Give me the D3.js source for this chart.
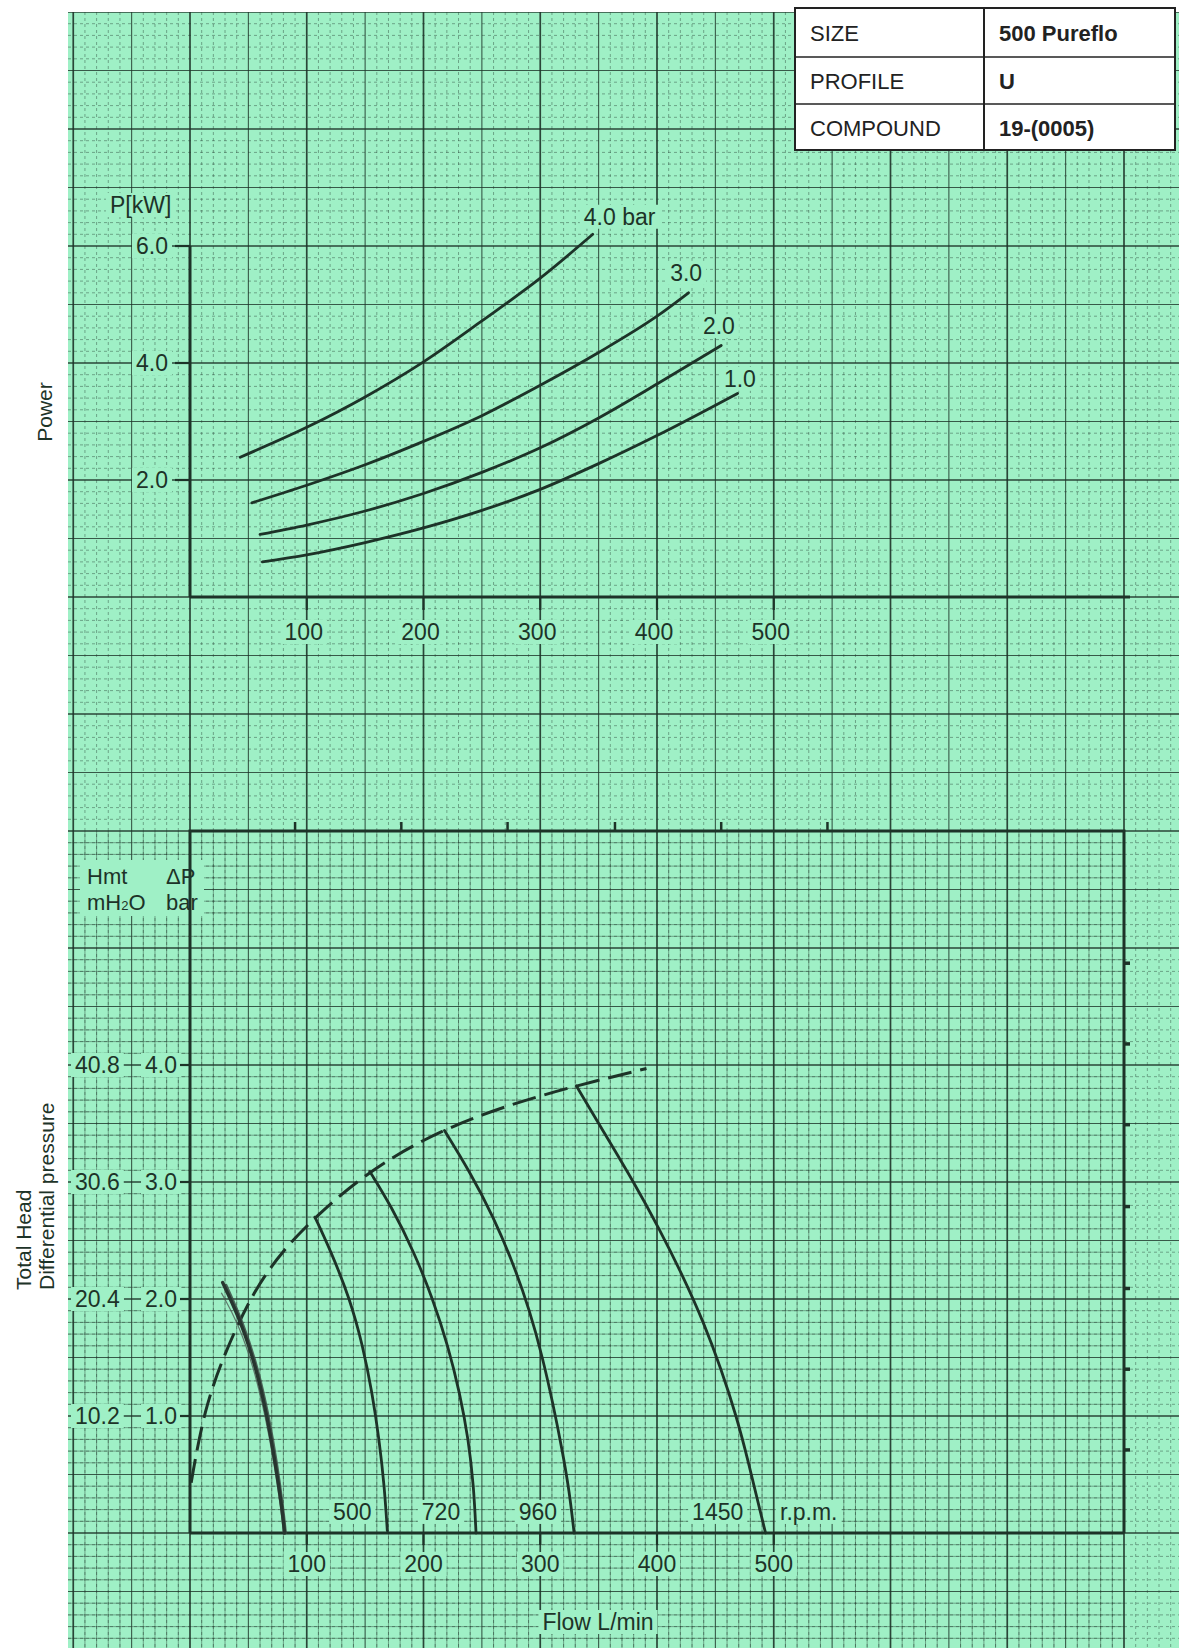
<!DOCTYPE html>
<html>
<head>
<meta charset="utf-8">
<script src="https://cdn.jsdelivr.net/npm/d3@7"></script>
<style>
  body { margin: 0; background: #fff; }
  svg { display: block; }
  text { font-family: "Liberation Sans", Arial, Helvetica, sans-serif; fill: #1d3328; }
</style>
</head>
<body>
<div id="chart"></div>
<script>
// shared flow axis (L/min)
var flowTicks = [100, 200, 300, 400, 500];
var powerTicks = [2.0, 4.0, 6.0];
var barTicks = [1.0, 2.0, 3.0, 4.0];
var headTicks = ['10.2', '20.4', '30.6', '40.8'];

// power curves, [flow, kW]
var power40 = [[43, 2.39], [100, 2.90], [150, 3.42], [200, 4.02], [250, 4.72], [300, 5.45], [345, 6.20]];
var power30 = [[53, 1.61], [100, 1.91], [150, 2.26], [200, 2.66], [250, 3.10], [300, 3.62], [350, 4.18], [400, 4.80], [427, 5.20]];
var power20 = [[60, 1.07], [100, 1.23], [150, 1.47], [200, 1.77], [250, 2.13], [300, 2.55], [350, 3.06], [400, 3.64], [455, 4.30]];
var power10 = [[62, 0.60], [100, 0.72], [150, 0.93], [200, 1.18], [250, 1.48], [300, 1.84], [350, 2.28], [400, 2.76], [469, 3.48]];
var powerLabels = [['4.0 bar', 368, 6.5], ['3.0', 425, 5.54], ['2.0', 453, 4.63], ['1.0', 471, 3.73]];

// pump curves, [flow, bar]
var envelope = [[1, 0.43], [12, 1.05], [30, 1.55], [55, 2.08], [80, 2.42], [107, 2.70], [150, 3.07], [200, 3.37], [250, 3.58], [300, 3.74], [350, 3.87], [391, 3.97]];
var rpm500 = [[107, 2.70], [121, 2.40], [137, 2.00], [148, 1.60], [156, 1.20], [162, 0.80], [166.5, 0.40], [169, 0.02]];
var rpm720 = [[154, 3.09], [172, 2.80], [192, 2.40], [208, 2.00], [221, 1.60], [231, 1.20], [238.5, 0.80], [243, 0.40], [245, 0.0]];
var rpm960 = [[218, 3.44], [239, 3.10], [260, 2.70], [277, 2.30], [291, 1.90], [302, 1.50], [311, 1.10], [319, 0.70], [325, 0.35], [329, 0.0]];
var rpm1450 = [[331, 3.82], [356, 3.40], [380, 3.00], [402, 2.60], [422, 2.20], [440, 1.80], [455, 1.40], [468, 1.00], [478.5, 0.60], [488, 0.20], [493, 0.0]];
var sketchA = [[28, 2.14], [44, 1.80], [57, 1.40], [66, 1.00], [73, 0.60], [79, 0.20], [81, 0.0]];
var sketchB = [[31, 2.12], [45.5, 1.80], [58.5, 1.40], [67.5, 1.00], [74.5, 0.60], [80, 0.20], [82, 0.0]];
var sketchC = [[27, 2.05], [41, 1.80], [55, 1.40], [64.5, 1.00], [72, 0.60], [78, 0.20], [80, 0.0]];
var rpmLabels = [['500', 139], ['720', 215], ['960', 298], ['1450', 452]];

// paper side marks
var topMarks = [90, 181, 272, 364, 455, 546];
var sideMarks = [4.87, 4.18, 3.49, 2.79, 2.09, 1.40, 0.71];

var infoRows = [['SIZE', '500 Pureflo'], ['PROFILE', 'U'], ['COMPOUND', '19-(0005)']];

var W = 1179, H = 1648,
    paper = '#9ff0c6',
    ink = '#1d3328';

var x = d3.scaleLinear().domain([0, 800]).range([190, 1124]);
var yBar = d3.scaleLinear().domain([0, 6]).range([1533, 831]);
var yKw = d3.scaleLinear().domain([0, 6]).range([597, 246]);

var svg = d3.select('#chart').append('svg')
  .attr('width', W)
  .attr('height', H);

svg.append('rect')
  .attr('x', 68).attr('y', 12)
  .attr('width', W - 68).attr('height', H - 12)
  .attr('fill', paper);

svg.append('clipPath').attr('id', 'paper')
  .append('rect')
  .attr('x', 68).attr('y', 12)
  .attr('width', W - 68).attr('height', H - 12);

// lower sheet has the solid fine ruling
svg.append('clipPath').attr('id', 'lower')
  .append('rect')
  .attr('x', 68).attr('y', yBar(6))
  .attr('width', x(800) - 68).attr('height', H - yBar(6));

var grid = svg.append('g').attr('clip-path', 'url(#paper)');
var fine = svg.append('g').attr('clip-path', 'url(#lower)');

var style = function(sel, i) {
  if (i % 10 === 0) return sel.attr('stroke-width', 1.7).attr('stroke-opacity', 0.9);
  if (i % 5 === 0) return sel.attr('stroke-width', 1.1).attr('stroke-opacity', 0.8);
  return sel.attr('stroke-width', 1).attr('stroke-opacity', 0.4).attr('stroke-dasharray', '3 3');
};

d3.range(-10, 91).forEach(function(i) {
  var gx = x(i * 10);
  style(grid.append('line')
    .attr('x1', gx).attr('x2', gx)
    .attr('y1', 12).attr('y2', H)
    .attr('stroke', ink), i);
  if (i % 5 !== 0) {
    fine.append('line')
      .attr('x1', gx).attr('x2', gx)
      .attr('y1', yBar(6)).attr('y2', H)
      .attr('stroke', ink).attr('stroke-width', 0.9).attr('stroke-opacity', 0.45);
  }
});

d3.range(-10, 131).forEach(function(i) {
  var gy = yBar(i / 10);
  style(grid.append('line')
    .attr('x1', 68).attr('x2', W)
    .attr('y1', gy).attr('y2', gy)
    .attr('stroke', ink), i);
  if (i % 5 !== 0 && i < 60) {
    fine.append('line')
      .attr('x1', 68).attr('x2', x(800))
      .attr('y1', gy).attr('y2', gy)
      .attr('stroke', ink).attr('stroke-width', 0.9).attr('stroke-opacity', 0.45);
  }
});

// text with a paper-coloured patch behind it
var labels = svg.append('g');
var label = function(tx, ty, str, anchor, size) {
  var t = labels.append('text')
    .attr('x', tx).attr('y', ty)
    .attr('text-anchor', anchor || 'start')
    .attr('dominant-baseline', 'central')
    .style('font-size', (size || 22) + 'px')
    .text(str);
  var b = t.node().getBBox();
  labels.insert('rect', function() { return t.node(); })
    .attr('x', b.x - 4).attr('y', b.y + 1)
    .attr('width', b.width + 8).attr('height', b.height - 2)
    .attr('fill', paper);
  return t;
};

// power chart axes
var axes = svg.append('g').attr('stroke', ink).attr('fill', 'none');
axes.append('line')
  .attr('x1', x(0)).attr('x2', 1130)
  .attr('y1', yKw(0)).attr('y2', yKw(0))
  .attr('stroke-width', 3);
axes.append('line')
  .attr('x1', x(0)).attr('x2', x(0))
  .attr('y1', yKw(0)).attr('y2', yKw(6))
  .attr('stroke-width', 3);

flowTicks.forEach(function(f) {
  axes.append('line')
    .attr('x1', x(f)).attr('x2', x(f))
    .attr('y1', yKw(0)).attr('y2', yKw(0) + 13)
    .attr('stroke-width', 2.2);
  label(x(f) - 3, yKw(0) + 35, f, 'middle', 23);
});
powerTicks.forEach(function(p) {
  axes.append('line')
    .attr('x1', x(0) - 15).attr('x2', x(0))
    .attr('y1', yKw(p)).attr('y2', yKw(p))
    .attr('stroke-width', 2.2);
  label(x(0) - 22, yKw(p), p.toFixed(1), 'end', 23);
});
label(110, 205, 'P[kW]', 'start', 23);

// pump chart frame
axes.append('path')
  .attr('d', 'M' + x(0) + ',' + yBar(0) + 'V' + yBar(6) + 'H' + x(800) + 'V' + yBar(0))
  .attr('stroke-width', 3);
axes.append('line')
  .attr('x1', x(0)).attr('x2', x(800))
  .attr('y1', yBar(0)).attr('y2', yBar(0))
  .attr('stroke-width', 3);

topMarks.forEach(function(f) {
  axes.append('line')
    .attr('x1', x(f)).attr('x2', x(f))
    .attr('y1', yBar(6)).attr('y2', yBar(6) - 9)
    .attr('stroke-width', 2.5);
});
sideMarks.forEach(function(b) {
  axes.append('line')
    .attr('x1', x(800)).attr('x2', x(800) + 6)
    .attr('y1', yBar(b)).attr('y2', yBar(b))
    .attr('stroke-width', 3.5);
});

flowTicks.forEach(function(f) {
  axes.append('line')
    .attr('x1', x(f)).attr('x2', x(f))
    .attr('y1', yBar(0)).attr('y2', yBar(0) + 12)
    .attr('stroke-width', 2.2);
  label(x(f), yBar(0) + 31, f, 'middle', 23);
});
barTicks.forEach(function(b, i) {
  axes.append('line')
    .attr('x1', x(0) - 10).attr('x2', x(0))
    .attr('y1', yBar(b)).attr('y2', yBar(b))
    .attr('stroke-width', 2.2);
  label(177, yBar(b), b.toFixed(1), 'end', 23);
  label(75, yBar(b), headTicks[i], 'start', 23);
});

// unit block over the left axis
labels.append('rect')
  .attr('x', 80).attr('y', 860)
  .attr('width', 124).attr('height', 56)
  .attr('fill', paper);
labels.append('text').attr('x', 87).attr('y', 884).style('font-size', '22px').text('Hmt');
labels.append('text').attr('x', 87).attr('y', 910).style('font-size', '22px')
  .html('mH<tspan font-size="13px">2</tspan>O');
labels.append('text').attr('x', 166).attr('y', 884).style('font-size', '22px').text('\u0394P');
labels.append('text').attr('x', 166).attr('y', 910).style('font-size', '22px').text('bar');

label(598, 1622, 'Flow L/min', 'middle', 23);

// axis titles on the white margin
svg.append('text')
  .attr('transform', 'translate(52,412) rotate(-90)')
  .attr('text-anchor', 'middle')
  .style('font-size', '21px')
  .text('Power');
svg.append('text')
  .attr('transform', 'translate(31,1290) rotate(-90)')
  .style('font-size', '21px')
  .text('Total Head');
svg.append('text')
  .attr('transform', 'translate(54,1290) rotate(-90)')
  .style('font-size', '21px')
  .text('Differential pressure');

// curves
var kwLine = d3.line()
  .x(function(d) { return x(d[0]); })
  .y(function(d) { return yKw(d[1]); })
  .curve(d3.curveMonotoneX);
var barLine = d3.line()
  .x(function(d) { return x(d[0]); })
  .y(function(d) { return yBar(d[1]); })
  .curve(d3.curveBasis);

var curves = svg.append('g').attr('fill', 'none').attr('stroke', ink).attr('stroke-linecap', 'round');

[power40, power30, power20, power10].forEach(function(s) {
  curves.append('path').attr('d', kwLine(s)).attr('stroke-width', 2.8);
});
powerLabels.forEach(function(l) {
  label(x(l[1]), yKw(l[2]), l[0], 'middle', 23);
});

curves.append('path')
  .attr('d', barLine(envelope))
  .attr('stroke-width', 3)
  .attr('stroke-linecap', 'butt')
  .attr('stroke-dasharray', '24 9');

[rpm500, rpm720, rpm960, rpm1450].forEach(function(s) {
  curves.append('path').attr('d', barLine(s)).attr('stroke-width', 2.8);
});

curves.append('path').attr('d', barLine(sketchC)).attr('stroke-width', 1.2).attr('stroke', '#4d5b55').attr('stroke-opacity', 0.8);
curves.append('path').attr('d', barLine(sketchB)).attr('stroke-width', 2.4).attr('stroke', '#3b4a44').attr('stroke-opacity', 0.85);
curves.append('path').attr('d', barLine(sketchA)).attr('stroke-width', 3.4).attr('stroke', '#27352f');

rpmLabels.forEach(function(l) {
  label(x(l[1]), yBar(0.18), l[0], 'middle', 23);
});
label(780, yBar(0.18), 'r.p.m.', 'start', 23);

// info table
var table = svg.append('g');
var cols = [795, 984, 1175],
    rows = [8, 57, 104, 150];
table.append('rect')
  .attr('x', cols[0]).attr('y', rows[0])
  .attr('width', cols[2] - cols[0]).attr('height', rows[3] - rows[0])
  .attr('fill', '#fff').attr('stroke', '#222').attr('stroke-width', 2);
table.append('line')
  .attr('x1', cols[1]).attr('x2', cols[1])
  .attr('y1', rows[0]).attr('y2', rows[3])
  .attr('stroke', '#222').attr('stroke-width', 2);
infoRows.forEach(function(r, i) {
  if (i > 0) {
    table.append('line')
      .attr('x1', cols[0]).attr('x2', cols[2])
      .attr('y1', rows[i]).attr('y2', rows[i])
      .attr('stroke', '#222').attr('stroke-width', 1.6);
  }
  var cy = (rows[i] + rows[i + 1]) / 2 + 1;
  table.append('text')
    .attr('x', cols[0] + 15).attr('y', cy)
    .attr('dominant-baseline', 'central')
    .style('font-size', '22px').style('fill', '#222')
    .text(r[0]);
  table.append('text')
    .attr('x', cols[1] + 15).attr('y', cy)
    .attr('dominant-baseline', 'central')
    .style('font-size', '22px').style('font-weight', 'bold').style('fill', '#222')
    .text(r[1]);
});
</script>
</body>
</html>
